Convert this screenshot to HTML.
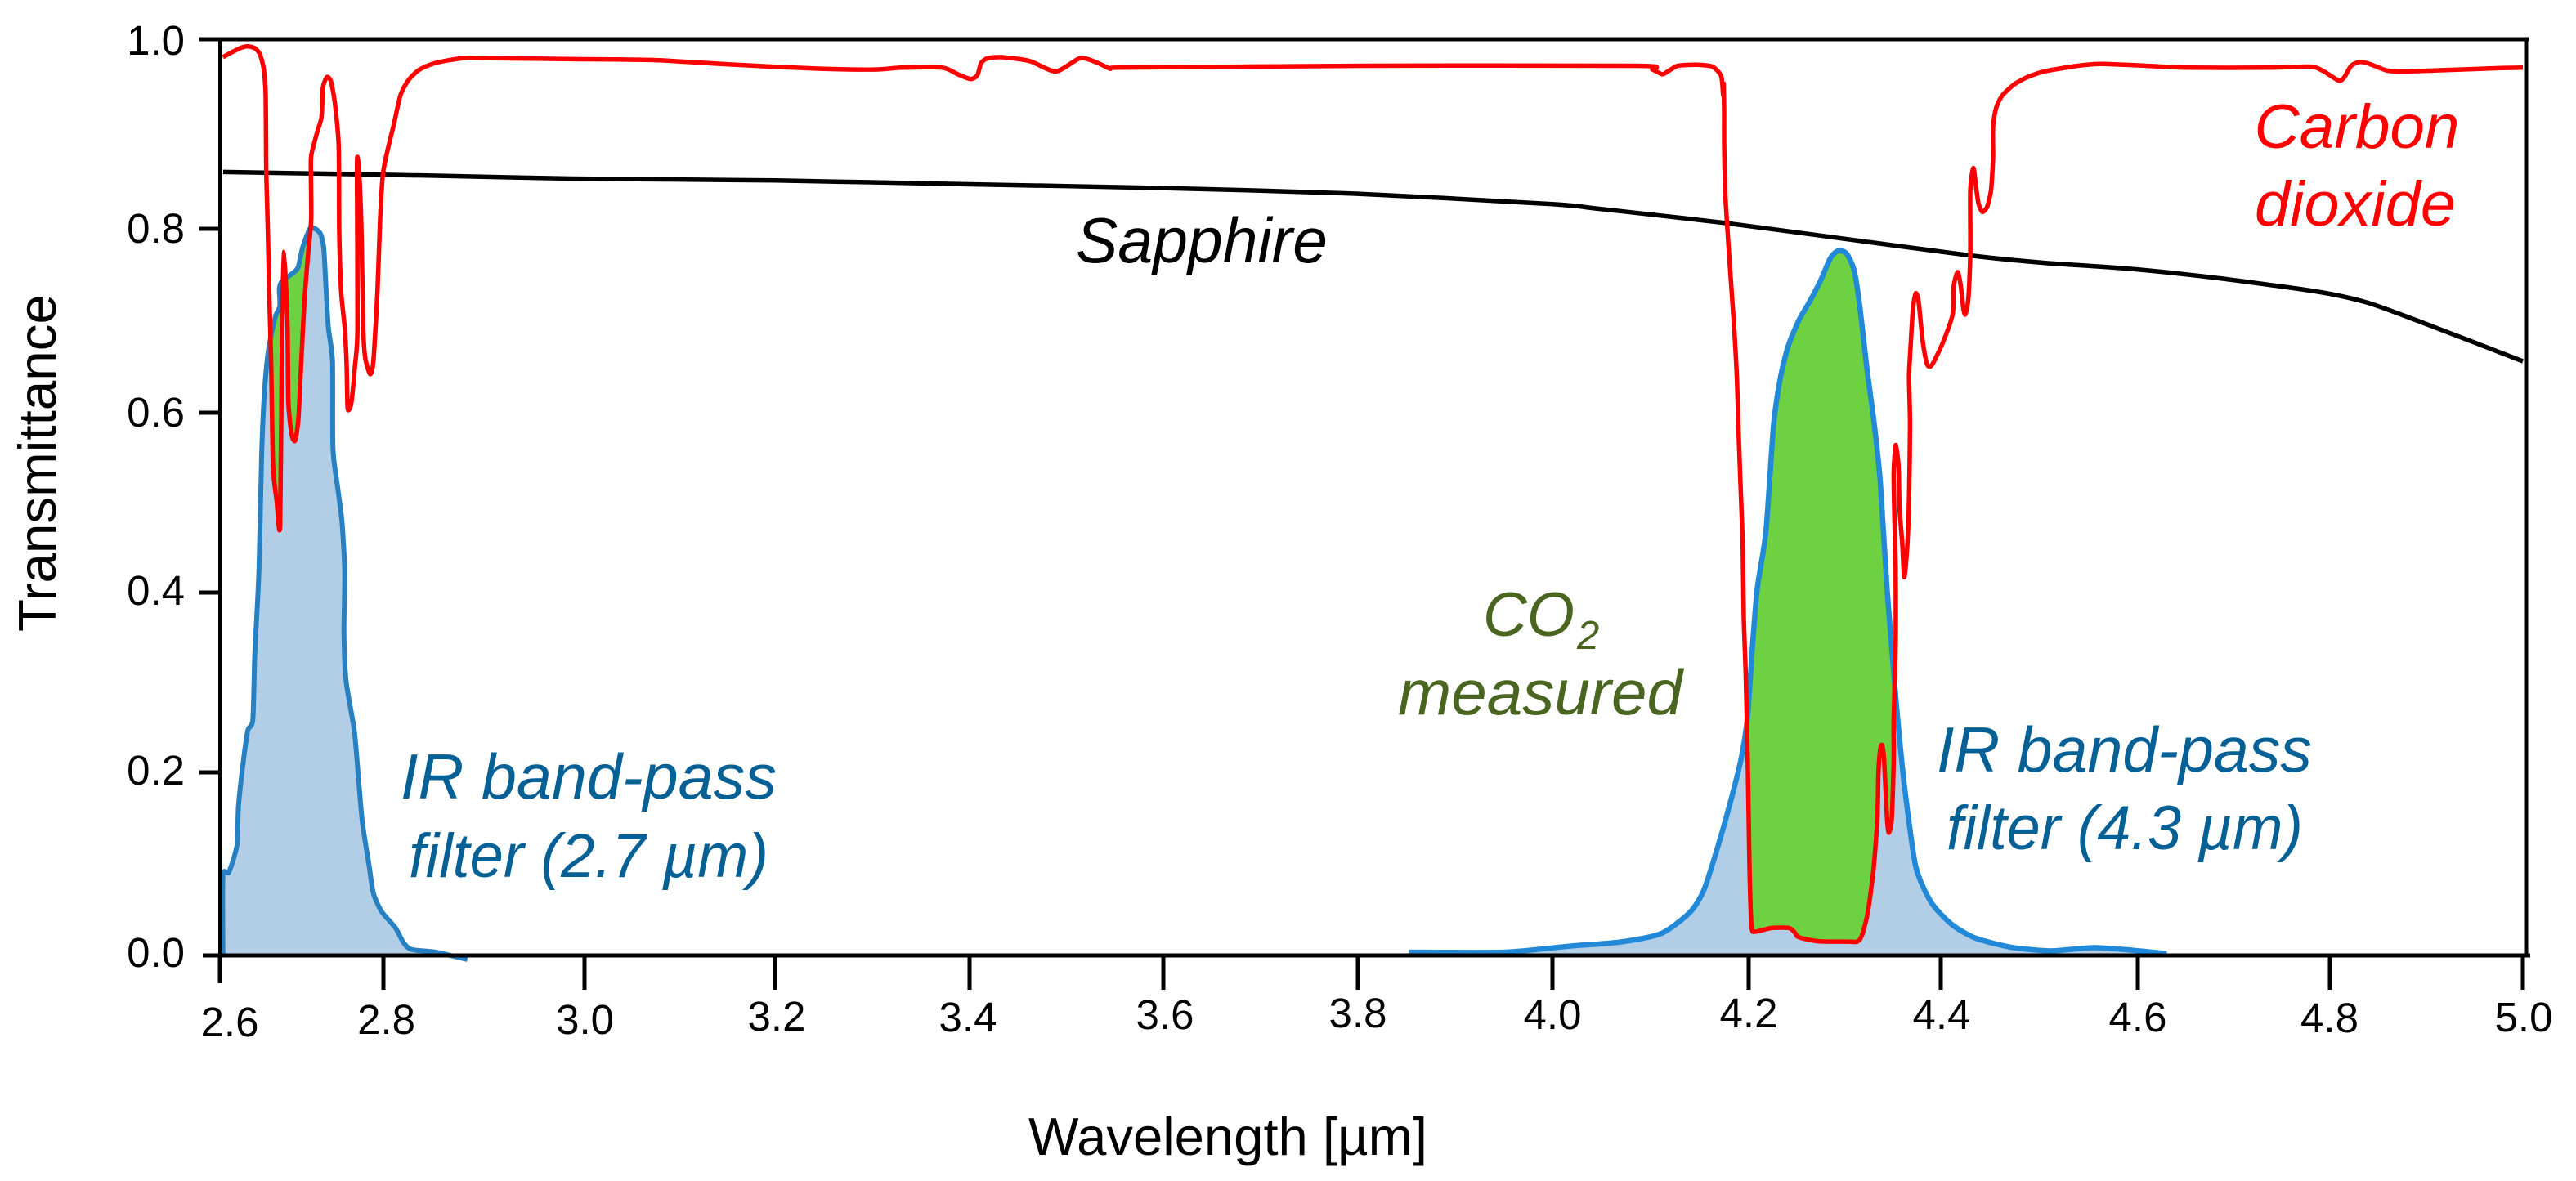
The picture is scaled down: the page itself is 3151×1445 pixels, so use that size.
<!DOCTYPE html>
<html lang="en">
<head>
<meta charset="utf-8">
<title>Transmittance of sapphire, carbon dioxide and IR band-pass filters</title>
<style>
html,body{margin:0;padding:0;background:#fff;}
svg{display:block;}
text{font-family:"Liberation Sans",Arial,sans-serif;}
.tick{font-size:51px;fill:#000;}
.it{font-style:italic;}
</style>
</head>
<body>
<svg id="chart" xmlns="http://www.w3.org/2000/svg" width="3151" height="1445" viewBox="0 0 3151 1445">
<defs id="defs"></defs>
<rect x="0" y="0" width="3151" height="1445" fill="#ffffff"/>
<g id="marks"></g>
<g id="axes"></g>

<g text-anchor="end">
<text class="tick" x="226" y="67">1.0</text>
<text class="tick" x="226" y="297">0.8</text>
<text class="tick" x="226" y="522">0.6</text>
<text class="tick" x="226" y="740">0.4</text>
<text class="tick" x="226" y="960">0.2</text>
<text class="tick" x="226" y="1183">0.0</text>
</g>
<g text-anchor="middle">
<text class="tick" x="281" y="1268">2.6</text>
<text class="tick" x="472.6" y="1265">2.8</text>
<text class="tick" x="715.6" y="1265">3.0</text>
<text class="tick" x="950" y="1261">3.2</text>
<text class="tick" x="1184" y="1262">3.4</text>
<text class="tick" x="1425" y="1259">3.6</text>
<text class="tick" x="1661" y="1257">3.8</text>
<text class="tick" x="1899" y="1259">4.0</text>
<text class="tick" x="2139" y="1257">4.2</text>
<text class="tick" x="2375" y="1259">4.4</text>
<text class="tick" x="2615" y="1262">4.6</text>
<text class="tick" x="2849.5" y="1263">4.8</text>
<text class="tick" x="3087" y="1262">5.0</text>
</g>

<text x="1258" y="1413" font-size="65" textLength="488" lengthAdjust="spacingAndGlyphs" fill="#000">Wavelength [µm]</text>
<text transform="translate(68,773) rotate(-90)" font-size="65" textLength="413" lengthAdjust="spacingAndGlyphs" fill="#000">Transmittance</text>

<text class="it" x="1316" y="321" font-size="78" textLength="308" lengthAdjust="spacingAndGlyphs" fill="#000">Sapphire</text>
<text class="it" x="2757.5" y="181" font-size="76" textLength="251" lengthAdjust="spacingAndGlyphs" fill="#ff0000">Carbon</text>
<text class="it" x="2758" y="276" font-size="77" textLength="246" lengthAdjust="spacingAndGlyphs" fill="#ff0000">dioxide</text>
<text class="it" x="490" y="977" font-size="78" textLength="460" lengthAdjust="spacingAndGlyphs" fill="#056096">IR band-pass</text>
<text class="it" x="500" y="1073" font-size="76" textLength="440" lengthAdjust="spacingAndGlyphs" fill="#056096">filter (2.7 µm)</text>
<text class="it" x="2369" y="944" font-size="78" textLength="459" lengthAdjust="spacingAndGlyphs" fill="#056096">IR band-pass</text>
<text class="it" x="2381" y="1039" font-size="76" textLength="436" lengthAdjust="spacingAndGlyphs" fill="#056096">filter (4.3 µm)</text>
<text class="it" x="1814" y="778" font-size="76" textLength="112" lengthAdjust="spacingAndGlyphs" fill="#4a651f">CO</text>
<text class="it" x="1929" y="794" font-size="49" fill="#4a651f">2</text>
<text class="it" x="1710" y="874" font-size="78" textLength="348" lengthAdjust="spacingAndGlyphs" fill="#4a651f">measured</text>

<script>
const xTicks = [2.6,2.8,3.0,3.2,3.4,3.6,3.8,4.0,4.2,4.4,4.6,4.8,5.0];
const yTicks = [0,0.2,0.4,0.6,0.8,1.0];

const co2Wavelength = [2.6037,2.614,2.626,2.634,2.6427,2.649,2.6537,2.656,2.6565,2.657,2.6587,2.6603,2.6627,2.665,2.6693,2.6737,2.676,2.6787,2.6827,2.6837,2.6877,2.692,2.696,2.6993,2.7033,2.7077,2.7117,2.7113,2.7143,2.7193,2.7243,2.726,2.731,2.736,2.741,2.7453,2.746,2.7483,2.7527,2.755,2.756,2.7577,2.761,2.7653,2.7683,2.7677,2.7687,2.771,2.7733,2.7753,2.7777,2.7837,2.7877,2.7927,2.796,2.7993,2.8035,2.8103,2.817,2.825,2.836,2.852,2.879,2.9065,2.988,3.073,3.159,3.244,3.302,3.33,3.372,3.388,3.401,3.408,3.412,3.419,3.434,3.462,3.489,3.514,3.53,3.545,3.553,3.676,3.804,4.086,4.102,4.112,4.119,4.128,4.147,4.163,4.172,4.174,4.1745,4.175,4.175,4.176,4.178,4.181,4.185,4.188,4.19,4.193,4.194,4.195,4.197,4.199,4.2,4.201,4.203,4.207,4.224,4.242,4.248,4.252,4.272,4.306,4.313,4.318,4.324,4.33,4.334,4.335,4.337,4.339,4.341,4.344,4.346,4.349,4.351,4.351,4.353,4.353,4.352,4.351,4.353,4.356,4.357,4.36,4.362,4.365,4.367,4.368,4.367,4.368,4.371,4.374,4.377,4.381,4.385,4.388,4.392,4.402,4.412,4.413,4.417,4.42,4.423,4.425,4.428,4.43,4.43,4.433,4.435,4.438,4.442,4.447,4.451,4.453,4.453,4.456,4.462,4.474,4.488,4.505,4.539,4.563,4.608,4.651,4.735,4.78,4.792,4.803,4.81,4.815,4.822,4.831,4.841,4.859,4.876,4.908,4.961,5.0];
const co2Transmittance = [0.981,0.986,0.991,0.9925,0.9905,0.984,0.968,0.941,0.876,0.849,0.795,0.732,0.652,0.54,0.503,0.476,0.692,0.775,0.692,0.612,0.576,0.569,0.593,0.652,0.72,0.771,0.811,0.872,0.887,0.903,0.918,0.949,0.96,0.955,0.93,0.887,0.795,0.732,0.692,0.652,0.608,0.603,0.612,0.652,0.692,0.86,0.874,0.849,0.791,0.692,0.66,0.642,0.656,0.732,0.811,0.857,0.88,0.91,0.941,0.957,0.968,0.975,0.98,0.98,0.979,0.978,0.973,0.969,0.968,0.97,0.97,0.963,0.958,0.962,0.975,0.98,0.981,0.977,0.966,0.98,0.976,0.969,0.97,0.971,0.972,0.972,0.968,0.963,0.967,0.972,0.973,0.971,0.961,0.941,0.953,0.924,0.891,0.841,0.805,0.757,0.696,0.638,0.57,0.483,0.449,0.373,0.309,0.213,0.15,0.088,0.031,0.026,0.03,0.03,0.025,0.02,0.0155,0.015,0.015,0.022,0.047,0.094,0.15,0.197,0.226,0.23,0.213,0.15,0.134,0.15,0.213,0.259,0.344,0.426,0.471,0.532,0.564,0.541,0.495,0.453,0.417,0.45,0.505,0.586,0.638,0.662,0.713,0.73,0.72,0.679,0.655,0.65,0.654,0.676,0.707,0.737,0.753,0.74,0.713,0.707,0.724,0.774,0.841,0.864,0.851,0.828,0.818,0.823,0.841,0.874,0.907,0.927,0.94,0.952,0.96,0.966,0.972,0.974,0.972,0.97,0.97,0.971,0.967,0.96,0.956,0.96,0.972,0.976,0.974,0.967,0.966,0.967,0.969,0.97];

const sapphireWavelength = [2.604,2.744,2.802,2.852,2.988,3.2,3.4,3.6,3.8,4.0,4.04,4.084,4.177,4.294,4.43,4.505,4.587,4.679,4.785,4.838,4.891,5.0];
const sapphireTransmittance = [0.86,0.858,0.857,0.856,0.853,0.851,0.847,0.843,0.837,0.826,0.822,0.817,0.806,0.79,0.771,0.763,0.757,0.747,0.732,0.72,0.70,0.656];

const filter27Wavelength = [2.6037,2.6037,2.611,2.621,2.6227,2.6293,2.6343,2.6403,2.6427,2.6477,2.651,2.6543,2.6593,2.6677,2.6733,2.6727,2.676,2.691,2.696,2.701,2.7093,2.7143,2.7227,2.727,2.73,2.7327,2.7377,2.7383,2.7443,2.7493,2.7527,2.7517,2.7543,2.7643,2.7693,2.7743,2.7827,2.7877,2.7977,2.812,2.82,2.828,2.852,2.8835];
const filter27Transmittance = [0.002,0.087,0.091,0.121,0.163,0.217,0.247,0.259,0.332,0.423,0.552,0.62,0.668,0.704,0.716,0.735,0.743,0.753,0.759,0.779,0.799,0.801,0.795,0.779,0.732,0.692,0.656,0.56,0.515,0.479,0.423,0.356,0.302,0.247,0.196,0.145,0.097,0.068,0.048,0.03,0.014,0.0065,0.0036,-0.0045];

const filter43Wavelength = [3.852,3.951,4.016,4.069,4.111,4.14,4.154,4.1675,4.181,4.1925,4.199,4.204,4.209,4.218,4.226,4.233,4.241,4.252,4.263,4.275,4.285,4.293,4.302,4.31,4.316,4.323,4.331,4.337,4.344,4.352,4.357,4.363,4.374,4.39,4.411,4.435,4.471,4.509,4.529,4.555,4.588,4.63];
const filter43Transmittance = [0.0036,0.0036,0.01,0.0146,0.024,0.047,0.0705,0.115,0.166,0.216,0.264,0.341,0.405,0.468,0.587,0.638,0.672,0.70,0.72,0.744,0.768,0.776,0.773,0.754,0.713,0.649,0.585,0.523,0.405,0.298,0.238,0.178,0.097,0.058,0.034,0.019,0.009,0.005,0.0063,0.0085,0.0063,0.002];

/* wavelength ranges in which the CO2 absorption is shaded green */
const measuredBands = [[2.66,2.7117],[4.176,4.353]];

const NS = 'http://www.w3.org/2000/svg';

function polyScale(v, domain, range){
  let i = 0;
  while(i < domain.length - 2 && v > domain[i+1]) i++;
  return range[i] + (v - domain[i]) * (range[i+1] - range[i]) / (domain[i+1] - domain[i]);
}
function xScale(w){
  return polyScale(w, xTicks, [269,469,715,948,1186,1423,1661,1899,2139,2374,2615,2850,3086]);
}
function yScale(v){
  return polyScale(v, yTicks, [1169,945,725,505,280,48]);
}
function curvePath(xs, ys){
  const p = xs.map((w,i) => [xScale(w), yScale(ys[i])]);
  let d = 'M' + p[0][0].toFixed(1) + ' ' + p[0][1].toFixed(1);
  const k = 0.12;
  for(let i = 0; i < p.length - 1; i++){
    const a = p[Math.max(i-1,0)], b = p[i], c = p[i+1], e = p[Math.min(i+2,p.length-1)];
    d += 'C' + (b[0]+(c[0]-a[0])*k).toFixed(1) + ' ' + (b[1]+(c[1]-a[1])*k).toFixed(1) + ' ' +
         (c[0]-(e[0]-b[0])*k).toFixed(1) + ' ' + (c[1]-(e[1]-b[1])*k).toFixed(1) + ' ' +
         c[0].toFixed(1) + ' ' + c[1].toFixed(1);
  }
  return d;
}
function areaPath(xs, ys){
  return curvePath(xs, ys) + 'L' + xScale(xs[xs.length-1]).toFixed(1) + ' ' + yScale(0) +
         'L' + xScale(xs[0]).toFixed(1) + ' ' + yScale(0) + 'Z';
}
function addPath(parent, d, fill, stroke, width){
  const el = document.createElementNS(NS, 'path');
  el.setAttribute('d', d);
  el.setAttribute('fill', fill);
  el.setAttribute('stroke', stroke);
  el.setAttribute('stroke-width', width);
  el.setAttribute('stroke-linejoin', 'round');
  parent.appendChild(el);
  return el;
}
function addLine(parent, x1, y1, x2, y2, width){
  const el = document.createElementNS(NS, 'line');
  el.setAttribute('x1', x1);
  el.setAttribute('y1', y1);
  el.setAttribute('x2', x2);
  el.setAttribute('y2', y2);
  el.setAttribute('stroke', '#000');
  el.setAttribute('stroke-width', width);
  parent.appendChild(el);
  return el;
}

const marks = document.getElementById('marks');
const axes = document.getElementById('axes');
const defs = document.getElementById('defs');

const area27 = addPath(marks, areaPath(filter27Wavelength, filter27Transmittance), '#b2cee6', 'none', 0);


const area43 = addPath(marks, areaPath(filter43Wavelength, filter43Transmittance), '#b2cee6', 'none', 0);



measuredBands.forEach(function(band, n){
  let a = 0, b = 0;
  for(let i = 0; i < co2Wavelength.length; i++){
    if(co2Wavelength[i] >= band[0] && a === 0) a = i;
    if(co2Wavelength[i] <= band[1]) b = i;
  }
  const xs = co2Wavelength.slice(a, b + 1);
  const ys = co2Transmittance.slice(a, b + 1);
  const clip = document.createElementNS(NS, 'clipPath');
  clip.setAttribute('id', 'above-co2-' + n);
  const cp = document.createElementNS(NS, 'path');
  cp.setAttribute('d', curvePath(xs, ys) + 'L' + xScale(xs[xs.length-1]).toFixed(1) + ' ' + yScale(1) +
                       'L' + xScale(xs[0]).toFixed(1) + ' ' + yScale(1) + 'Z');
  clip.appendChild(cp);
  defs.appendChild(clip);
  const src = n === 0 ? [filter27Wavelength, filter27Transmittance] : [filter43Wavelength, filter43Transmittance];
  const green = addPath(marks, areaPath(src[0], src[1]), '#6dd142', 'none', 0);
  green.setAttribute('clip-path', 'url(#above-co2-' + n + ')');
  
  
});

const line27 = addPath(marks, curvePath(filter27Wavelength, filter27Transmittance), 'none', '#2680c2', 6);


const line43 = addPath(marks, curvePath(filter43Wavelength, filter43Transmittance), 'none', '#2189d8', 6.5);


const sapphireLine = addPath(marks, curvePath(sapphireWavelength, sapphireTransmittance), 'none', '#000', 5.5);


const co2Line = addPath(marks, curvePath(co2Wavelength, co2Transmittance), 'none', '#ff0000', 5.5);



xTicks.forEach(function(w){
  const t = addLine(axes, xScale(w), 1169, xScale(w), w === 2.6 ? 1203 : 1211, 5);
  
  
});
yTicks.forEach(function(v){
  const t = addLine(axes, v === 0 ? 248 : 244, yScale(v), 269, yScale(v), 5);
  
  
});
const leftAxis = addLine(axes, 269.5, 46, 269.5, 1203, 5);


const bottomAxis = addLine(axes, 248, 1169, 3095, 1169, 5);


const topAxis = addLine(axes, 244, 48, 3093, 48, 5);


const rightAxis = addLine(axes, 3090.5, 46, 3090.5, 1171, 4);


</script>
</svg>
</body>
</html>
